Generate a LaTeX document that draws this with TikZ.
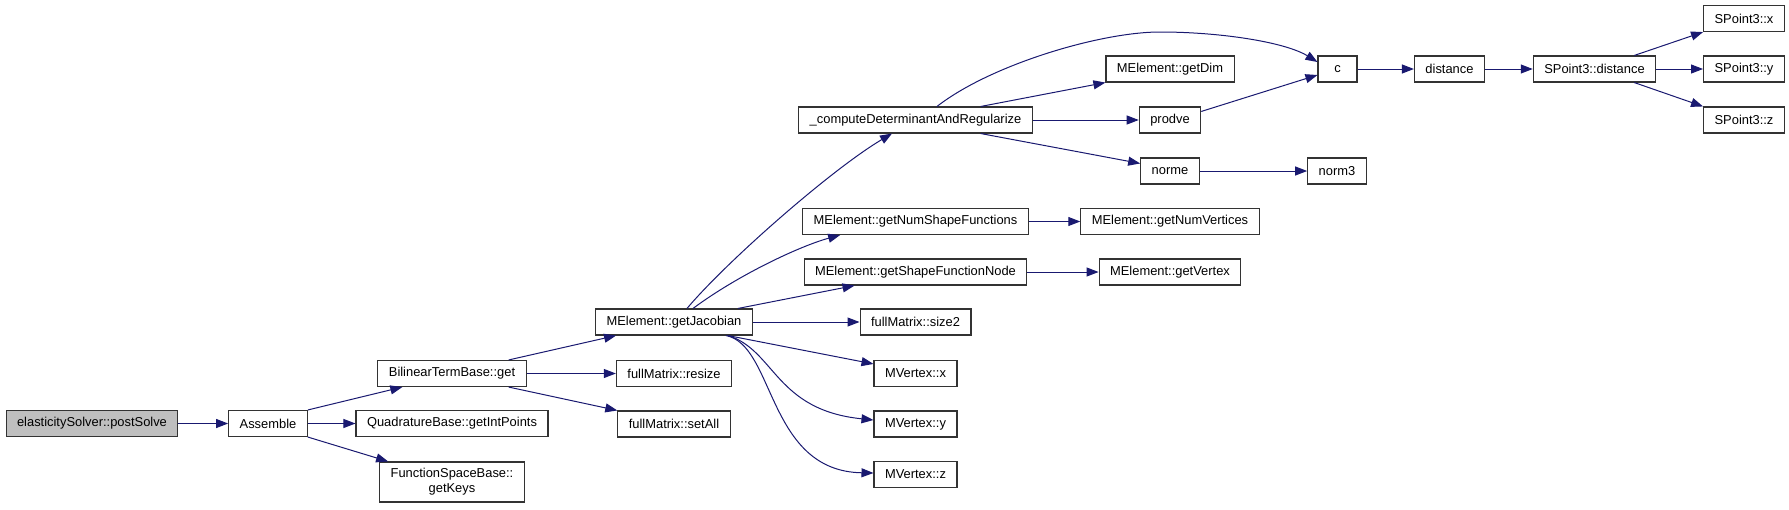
\documentclass[tikz,border=0pt]{standalone}
\usepackage{fontspec}
\setmainfont{Liberation Sans}
\usetikzlibrary{arrows.meta}
\definecolor{edgeblue}{RGB}{25,25,112}
\definecolor{rootgray}{RGB}{191,191,191}

\begin{document}
\begin{tikzpicture}[
	x=1pt, y=-1pt,
	func/.style={rectangle, draw=black!80, line width=1.1pt, fill=white, minimum width=39pt, minimum height=26pt, inner xsep=11pt, inner ysep=2pt, align=center, font=\fontsize{12.9}{15}\selectfont},
	root/.style={func, fill=rootgray},
	arrow/.style={-{Triangle[length=12pt,width=9pt]}, line width=1pt, draw=edgeblue}
]
\useasboundingbox (0,0) rectangle (1789,509);
\node (post) [root] at (92,423.5) {elasticitySolver::postSolve};
\node (assemble) [func] at (268,423.5) {Assemble};
\node (bilinear) [func] at (452,373.5) {BilinearTermBase::get};
\node (quad) [func] at (452,423.5) {QuadratureBase::getIntPoints};
\node (keys) [func, minimum height=40pt] at (452,482) {FunctionSpaceBase::\\getKeys};
\node (jacobian) [func] at (674,322) {MElement::getJacobian};
\node (resize) [func] at (674,373.5) {fullMatrix::resize};
\node (setall) [func] at (674,424) {fullMatrix::setAll};
\node (compute) [func] at (915.5,120) {\_computeDeterminantAndRegularize};
\node (numshape) [func] at (915.5,221.5) {MElement::getNumShapeFunctions};
\node (shapenode) [func] at (915.5,272) {MElement::getShapeFunctionNode};
\node (size2) [func] at (915.5,322) {fullMatrix::size2};
\node (vx) [func] at (915.5,373.5) {MVertex::x};
\node (vy) [func] at (915.5,424) {MVertex::y};
\node (vz) [func] at (915.5,474.5) {MVertex::z};
\node (getdim) [func] at (1170,69) {MElement::getDim};
\node (prodve) [func] at (1170,120) {prodve};
\node (norme) [func] at (1170,171) {norme};
\node (numvert) [func] at (1170,221.5) {MElement::getNumVertices};
\node (getvertex) [func] at (1170,272) {MElement::getVertex};
\node (c) [func] at (1337.5,69) {c};
\node (norm3) [func] at (1337,171) {norm3};
\node (distance) [func] at (1449.5,69) {distance};
\node (sdist) [func] at (1594.5,69) {SPoint3::distance};
\node (sx) [func] at (1744,18.5) {SPoint3::x};
\node (sy) [func] at (1744,69) {SPoint3::y};
\node (sz) [func] at (1744,120) {SPoint3::z};
\draw [arrow] (post) -- (assemble);
\draw [arrow] (assemble.north east) -- ([xshift=25pt]bilinear.south west);
\draw [arrow] (assemble) -- (quad);
\draw [arrow] (assemble.south east) -- ([xshift=9pt]keys.north west);
\draw [arrow] ([xshift=-18pt]bilinear.north east) -- ([xshift=21pt]jacobian.south west);
\draw [arrow] (bilinear) -- (resize);
\draw [arrow] ([xshift=-18pt]bilinear.south east) -- (setall.north west);
\draw [arrow] ([xshift=13pt]jacobian.north) .. controls (727,261) and (832,169) .. ([xshift=-23.5pt]compute.south);
\draw [arrow] ([xshift=19pt]jacobian.north) .. controls (738,275) and (800,246) .. ([xshift=38pt]numshape.south west);
\draw [arrow] ([xshift=-15pt]jacobian.north east) -- ([xshift=51pt]shapenode.south west);
\draw [arrow] (jacobian) -- (size2);
\draw [arrow] ([xshift=-25pt]jacobian.south east) -- ([yshift=-4pt]vx.north west);
\draw [arrow] ([xshift=-25pt]jacobian.south east) .. controls (775,350) and (775,410) .. ([yshift=4pt]vy.west);
\draw [arrow] ([xshift=-27pt]jacobian.south east) .. controls (775,345) and (767,471) .. ([yshift=1.5pt]vz.west);
\draw [arrow] ([xshift=21.5pt]compute.north) .. controls (990,65) and (1100,32) .. (1160,32) .. controls (1220,32) and (1285,42) .. ([yshift=7pt]c.west);
\draw [arrow] ([xshift=-52pt]compute.north east) -- (getdim.south west);
\draw [arrow] (compute) -- (prodve);
\draw [arrow] ([xshift=-52pt]compute.south east) -- ([yshift=-6pt]norme.north west);
\draw [arrow] ([yshift=-5pt]prodve.north east) -- ([yshift=-6pt]c.west);
\draw [arrow] (c) -- (distance);
\draw [arrow] (distance) -- (sdist);
\draw [arrow] ([xshift=-22pt]sdist.north east) -- (sx.south west);
\draw [arrow] (sdist) -- (sy);
\draw [arrow] ([xshift=-22pt]sdist.south east) -- (sz.north west);
\draw [arrow] (norme) -- (norm3);
\draw [arrow] (numshape) -- (numvert);
\draw [arrow] (shapenode) -- (getvertex);
\end{tikzpicture}
\end{document}
